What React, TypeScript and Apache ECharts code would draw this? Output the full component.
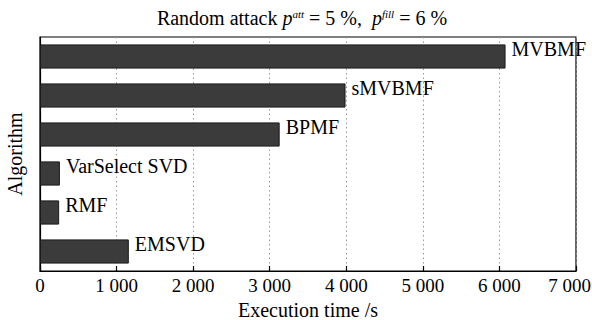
import React, { useEffect, useRef } from "react";
import * as echarts from "echarts";

const categories = ["EMSVD", "RMF", "VarSelect SVD", "BPMF", "sMVBMF", "MVBMF"];
const times = [1160, 250, 260, 3130, 3990, 6080];
const xTicks = [0, 1000, 2000, 3000, 4000, 5000, 6000, 7000];

const FONT = "'Liberation Serif', 'Times New Roman', serif";

export default function App() {
  const ref = useRef<HTMLDivElement>(null);
  useEffect(() => {
    const chart = echarts.init(ref.current!, null, { renderer: "svg" });
    chart.setOption({
      animation: false,
      title: {
        text: "{n|Random attack }{i|p}{s|att}{n| = 5 %,  }{i|p}{s|fill}{n| = 6 %}",
        left: 297,
        textAlign: "center",
        top: 3,
        textStyle: {
          fontWeight: "normal",
          rich: {
            n: { fontFamily: FONT, fontSize: 20, fontWeight: "normal", color: "#000" },
            i: { fontFamily: FONT, fontSize: 20, fontStyle: "italic", fontWeight: "normal", color: "#000" },
            s: { fontFamily: FONT, fontSize: 11, fontStyle: "italic", fontWeight: "normal", color: "#000", padding: [0, 0, 9, 0] },
          },
        },
      },
      grid: {
        left: 40,
        right: 16,
        top: 37,
        bottom: 49,
        show: true,
        borderColor: "#000",
        borderWidth: 1.2,
        backgroundColor: "transparent",
        outerBoundsMode: "none",
        containLabel: false,
      },
      xAxis: {
        type: "value",
        min: 0,
        max: 7000,
        interval: 1000,
        name: "Execution time /s",
        nameLocation: "middle",
        nameGap: 24,
        nameTextStyle: { fontFamily: FONT, fontSize: 20, color: "#000" },
        axisLine: { show: true, lineStyle: { color: "#000", width: 1.2 } },
        axisTick: { show: true, inside: true, length: 5, lineStyle: { color: "#000", width: 1.2 } },
        axisLabel: {
          fontFamily: FONT,
          fontSize: 19,
          color: "#000",
          margin: 5,
          rich: {
            r: { fontFamily: FONT, fontSize: 19, color: "#000", padding: [0, 13, 0, 0] },
          },
          formatter: (v: number) => {
            const t = xTicks.find((x) => x === v);
            if (t === undefined) return "";
            const s = t >= 1000 ? `${Math.floor(t / 1000)} ${String(t % 1000).padStart(3, "0")}` : String(t);
            return t === xTicks[xTicks.length - 1] ? `{r|${s}}` : s;
          },
        },
        splitLine: { show: true, lineStyle: { color: "#999", type: [1.5, 3], width: 1 } },
      },
      yAxis: {
        type: "category",
        data: categories,
        name: "Algorithm",
        nameLocation: "middle",
        nameGap: 15,
        nameTextStyle: { fontFamily: FONT, fontSize: 20, color: "#000" },
        axisLine: { show: true, lineStyle: { color: "#000", width: 1.2 } },
        axisTick: { show: true, inside: true, alignWithLabel: true, length: 3, lineStyle: { color: "#555" } },
        axisLabel: { show: false },
        splitLine: { show: false },
      },
      series: [
        {
          type: "bar",
          data: times,
          barCategoryGap: "38%",
          itemStyle: { color: "#3b3b3b", borderColor: "#1a1a1a", borderWidth: 1 },
          label: {
            show: true,
            position: "right",
            distance: 6,
            offset: [0, -8],
            fontFamily: FONT,
            fontSize: 20,
            color: "#000",
            formatter: (p: any) => categories[p.dataIndex],
          },
        },
      ],
    });
    return () => chart.dispose();
  }, []);
  return <div ref={ref} style={{ width: 592, height: 320, position: "absolute", left: 0, top: 0 }} />;
}
